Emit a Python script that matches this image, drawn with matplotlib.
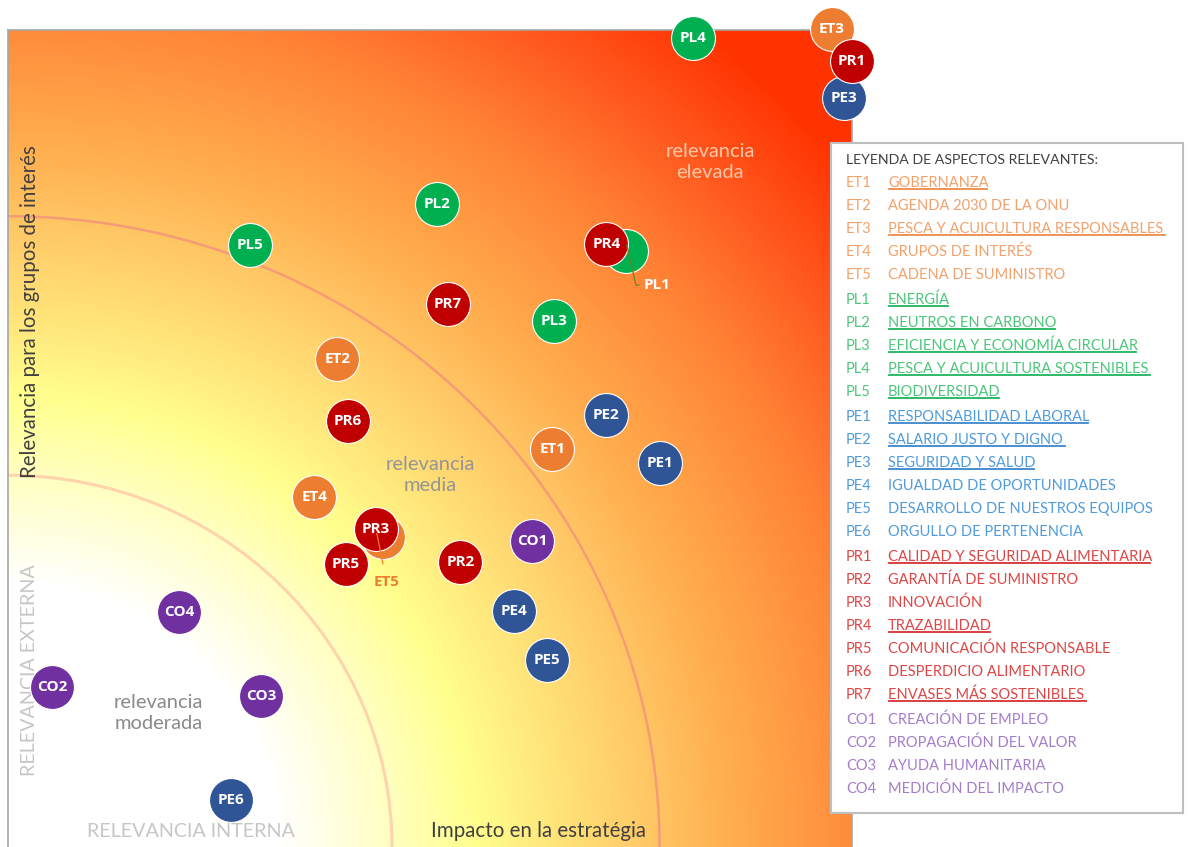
import numpy as np
import matplotlib
matplotlib.use("Agg")
import matplotlib.pyplot as plt
from matplotlib.colors import LinearSegmentedColormap
from matplotlib.patches import Arc

# materiality data (0-10 scale): x = impacto en la estrategia, y = relevancia grupos de interés
codes = ["ET5", "PL1", "ET3", "PE3", "PR1", "PL4", "PL2", "PL5", "PR4", "PR7", "PL3",
         "ET2", "PE2", "PR6", "ET1", "PE1", "ET4", "PR5", "PR3", "PR2", "CO1", "PE4",
         "PE5", "CO4", "CO2", "CO3", "PE6"]
impacto = [4.44, 7.32, 9.76, 9.91, 10.00, 8.12, 5.08, 2.87, 7.09, 5.21, 6.47,
           3.90, 7.09, 4.03, 6.45, 7.73, 3.63, 4.00, 4.36, 5.36, 6.21, 6.00,
           6.39, 2.03, 0.52, 3.00, 2.64]
relevancia = [3.79, 7.30, 10.01, 9.17, 9.62, 9.90, 7.87, 7.37, 7.38, 6.65, 6.44,
              5.97, 5.29, 5.21, 4.87, 4.70, 4.28, 3.46, 3.89, 3.49, 3.75, 2.89,
              2.29, 2.88, 1.96, 1.85, 0.58]
hidden = ["ET5", "PL1"]  # labels drawn outside with a leader line

inner_r = 4.55
outer_r = 7.72

legend_groups = {
    "ET": [("ET1", "GOBERNANZA", True), ("ET2", "AGENDA 2030 DE LA ONU", False),
           ("ET3", "PESCA Y ACUICULTURA RESPONSABLES ", True), ("ET4", "GRUPOS DE INTERÉS", False),
           ("ET5", "CADENA DE SUMINISTRO", False)],
    "PL": [("PL1", "ENERGÍA", True), ("PL2", "NEUTROS EN CARBONO", True),
           ("PL3", "EFICIENCIA Y ECONOMÍA CIRCULAR", True), ("PL4", "PESCA Y ACUICULTURA SOSTENIBLES ", True),
           ("PL5", "BIODIVERSIDAD", True)],
    "PE": [("PE1", "RESPONSABILIDAD LABORAL", True), ("PE2", "SALARIO JUSTO Y DIGNO ", True),
           ("PE3", "SEGURIDAD Y SALUD", True), ("PE4", "IGUALDAD DE OPORTUNIDADES", False),
           ("PE5", "DESARROLLO DE NUESTROS EQUIPOS", False), ("PE6", "ORGULLO DE PERTENENCIA", False)],
    "PR": [("PR1", "CALIDAD Y SEGURIDAD ALIMENTARIA", True), ("PR2", "GARANTÍA DE SUMINISTRO", False),
           ("PR3", "INNOVACIÓN", False), ("PR4", "TRAZABILIDAD", True),
           ("PR5", "COMUNICACIÓN RESPONSABLE", False), ("PR6", "DESPERDICIO ALIMENTARIO", False),
           ("PR7", "ENVASES MÁS SOSTENIBLES ", True)],
    "CO": [("CO1", "CREACIÓN DE EMPLEO", False), ("CO2", "PROPAGACIÓN DEL VALOR", False),
           ("CO3", "AYUDA HUMANITARIA", False), ("CO4", "MEDICIÓN DEL IMPACTO", False)],
}

circle_colors = {"ET": "#ED7D31", "PL": "#00B050", "PE": "#2F5597", "PR": "#C00000", "CO": "#7030A0"}
legend_colors = {"ET": "#F2A16B", "PL": "#4CC67A", "PE": "#4F9BDC", "PR": "#E04545", "CO": "#A47CCB"}
underline_colors = {"ET": "#EE8A4A", "PL": "#1DB45A", "PE": "#3A86CC", "PR": "#D83030", "CO": "#9060C0"}

W, H = 1189, 847
fig = plt.figure(figsize=(W / 100, H / 100), dpi=100)
fig.patch.set_facecolor("white")

ax = fig.add_axes([8 / W, 0, 844 / W, 817 / H])
ax.set_xlim(0, 10)
ax.set_ylim(0, 10)
ax.set_xticks([])
ax.set_yticks([])
for side in ["top", "left", "right"]:
    ax.spines[side].set_color("#A6A6A6")
    ax.spines[side].set_linewidth(1.2)
ax.spines["bottom"].set_visible(False)

# radial gradient background
stops = [(0.0, "#FFFFFF"), (3.2, "#FFFFFF"), (4.5, "#FFFFC2"), (5.5, "#FFFF8E"),
         (6.5, "#FFE47A"), (7.5, "#FFCA68"), (8.5, "#FFB050"), (9.5, "#FF9842"),
         (10.5, "#FF8034"), (11.7, "#FF5A20"), (13.0, "#FF3300"), (14.2, "#FF3300")]
rmax = stops[-1][0]
cmap = LinearSegmentedColormap.from_list("mat", [(r / rmax, c) for r, c in stops])
gx, gy = np.meshgrid(np.linspace(0, 10, 500), np.linspace(0, 10, 500))
gr = np.sqrt(gx ** 2 + gy ** 2)
ax.imshow(gr, extent=(0, 10, 0, 10), origin="lower", cmap=cmap, vmin=0, vmax=rmax,
          aspect="auto", zorder=0, interpolation="bilinear")

ax.add_patch(Arc((0, 0), 2 * inner_r, 2 * inner_r, theta1=0, theta2=90,
                 color="#FFD3AC", lw=2.2, zorder=1))
ax.add_patch(Arc((0, 0), 2 * outer_r, 2 * outer_r, theta1=0, theta2=90,
                 color="#F59C76", lw=1.8, zorder=1))

# zone texts
zone_kw = dict(ha="center", va="center", fontsize=14.5, family="Lato",
               linespacing=1.3, zorder=2)
ax.text(1.78, 1.64, "relevancia\nmoderada", color="#8A8A8A", **zone_kw)
ax.text(5.0, 4.55, "relevancia\nmedia", color="#959595", **zone_kw)
ax.text(8.32, 8.38, "relevancia\nelevada", color="#F9C6A6", **zone_kw)

ax.text(0.26, 6.55, "Relevancia para los grupos de interés", rotation=90, ha="center",
        va="center", fontsize=14.8, family="Lato", color="#404040", zorder=2)
ax.text(6.28, 0.19, "Impacto en la estratégia", ha="center", va="center", fontsize=14.8,
        family="Lato", color="#404040", zorder=2)
ax.text(0.26, 2.17, "RELEVANCIA EXTERNA", rotation=90, ha="center", va="center",
        fontsize=14.2, family="Lato", color="#C6C6C6", zorder=2)
ax.text(2.17, 0.19, "RELEVANCIA INTERNA", ha="center", va="center", fontsize=14.2,
        family="Lato", color="#C6C6C6", zorder=2)

# circles
for i, (c, xv, yv) in enumerate(zip(codes, impacto, relevancia)):
    col = circle_colors[c[:2]]
    ax.scatter([xv], [yv], s=1000, color=col, edgecolors="white", linewidths=0.8,
               zorder=5 + i, clip_on=False)
    if c not in hidden:
        ax.text(xv, yv, c, ha="center", va="center", fontsize=11, family="Open Sans",
                weight="bold", color="white", zorder=5 + i, clip_on=False)

pi = codes.index("PL1")
ax.annotate("PL1", xy=(impacto[pi] + 0.01, relevancia[pi] + 0.07), xytext=(12, -29),
            textcoords="offset points", ha="left", va="center", fontsize=11,
            family="Open Sans", weight="bold", color="white", zorder=60,
            arrowprops=dict(arrowstyle="-", color="#5F8A1E", lw=0.9,
                            connectionstyle="angle,angleA=0,angleB=-77,rad=0",
                            shrinkA=1, shrinkB=0))
ei = codes.index("ET5")
ax.annotate("ET5", xy=(impacto[ei] - 0.07, relevancia[ei] + 0.05), xytext=(7, -35),
            textcoords="offset points", ha="center", va="center", fontsize=11,
            family="Open Sans", weight="bold", color="#ED7D31", zorder=60,
            arrowprops=dict(arrowstyle="-", color="#ED7D31", lw=0.9,
                            shrinkA=6, shrinkB=0))

# legend box
lx0, ly0, lx1, ly1 = 831, 143, 1183, 813
lax = fig.add_axes([lx0 / W, 1 - ly1 / H, (lx1 - lx0) / W, (ly1 - ly0) / H])
lax.set_xlim(0, lx1 - lx0)
lax.set_ylim(ly1 - ly0, 0)
lax.set_xticks([])
lax.set_yticks([])
lax.set_facecolor("white")
for s in lax.spines.values():
    s.set_color("#BFBFBF")
    s.set_linewidth(1.5)
lax.set_zorder(100)

lax.text(15, 17, "LEYENDA DE ASPECTOS RELEVANTES:", ha="left", va="center", fontsize=10.2,
         family="Lato", color="#404040")

underlined = []
row = 0
for g, (key, items) in enumerate(legend_groups.items()):
    for code, name, ul in items:
        yy = 40 + 23 * row + 2 * g
        lax.text(15, yy, code, ha="left", va="center", fontsize=10.5, family="Lato",
                 color=legend_colors[key])
        t = lax.text(57, yy, name, ha="left", va="center", fontsize=10.5, family="Lato",
                     color=legend_colors[key])
        if ul:
            underlined.append((t, underline_colors[key]))
        row += 1

fig.canvas.draw()
inv = lax.transData.inverted()
for t, col in underlined:
    bb = t.get_window_extent()
    (x0, y0) = inv.transform((bb.x0 + 1, bb.y0 + 1.5))
    (x1, _) = inv.transform((bb.x1 - 2, bb.y0 + 1.5))
    lax.plot([x0, x1], [y0, y0], color=col, lw=1.3)

fig.savefig("out.png", dpi=100, facecolor="white")
